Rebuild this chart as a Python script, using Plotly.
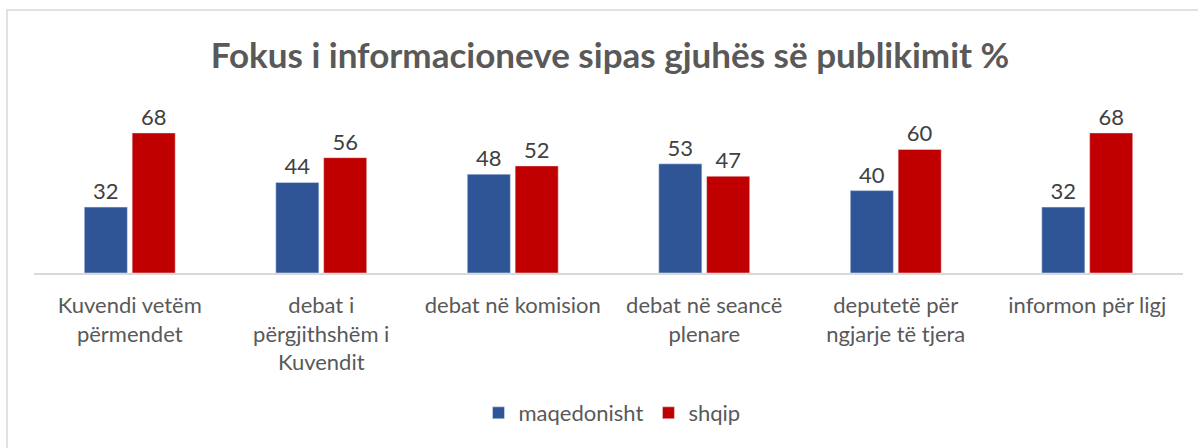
import plotly.graph_objects as go

categories = [
    "Kuvendi vetëm<br>përmendet",
    "debat i<br>përgjithshëm i<br>Kuvendit",
    "debat në komision",
    "debat në seancë<br>plenare",
    "deputetë për<br>ngjarje të tjera",
    "informon për ligj",
]
maqedonisht = [32, 44, 48, 53, 40, 32]
shqip = [68, 56, 52, 47, 60, 68]

W, H = 1198, 448
L, R, T, B = 34, 15, 100, 175
pw, ph = W - L - R, H - T - B

def px_x(x):
    return (x - L) / pw

def px_y(y):
    return (H - B - y) / ph

FONT = "Lato"
fig = go.Figure()
fig.add_trace(go.Bar(x=categories, y=maqedonisht, name="maqedonisht",
                     marker=dict(color="#2F5597"),
                     text=maqedonisht, textposition="outside",
                     textfont=dict(size=22, color="#404040", family=FONT),
                     cliponaxis=False))
fig.add_trace(go.Bar(x=categories, y=shqip, name="shqip",
                     marker=dict(color="#C00000"),
                     text=shqip, textposition="outside",
                     textfont=dict(size=22, color="#404040", family=FONT),
                     cliponaxis=False))

fig.update_layout(
    width=W, height=H,
    margin=dict(l=L, r=R, t=T, b=B),
    paper_bgcolor="white", plot_bgcolor="white",
    font=dict(family=FONT, color="#595959"),
    barmode="group", bargap=0.5, bargroupgap=0.1,
    title=dict(text="<b>Fokus i informacioneve sipas gjuhës së publikimit %</b>",
               x=px_x(610), xref="paper", xanchor="center",
               y=1 - 56 / H, yref="container", yanchor="middle",
               font=dict(size=35, color="#595959", family=FONT)),
    showlegend=True,
    legend=dict(orientation="h", x=px_x(612), xanchor="center",
                y=px_y(413), yanchor="middle",
                font=dict(size=22, color="#595959", family=FONT),
                itemwidth=30, traceorder="normal"),
    xaxis=dict(showline=True, linecolor="#D9D9D9", linewidth=1.5,
               ticks="outside", ticklen=12, tickcolor="rgba(0,0,0,0)",
               tickfont=dict(size=22, color="#595959", family=FONT),
               showgrid=False, fixedrange=True, tickangle=0),
    yaxis=dict(visible=False, range=[0, 84], showgrid=False, fixedrange=True),
    shapes=[dict(type="rect", xref="paper", yref="paper",
                 x0=px_x(7), x1=px_x(1205), y0=px_y(10), y1=px_y(455),
                 line=dict(color="#D9D9D9", width=1.5), layer="below")],
)

fig.write_html("out.html", config={"displayModeBar": False},
               post_script="document.body.style.margin='0';document.body.style.overflow='hidden';")
